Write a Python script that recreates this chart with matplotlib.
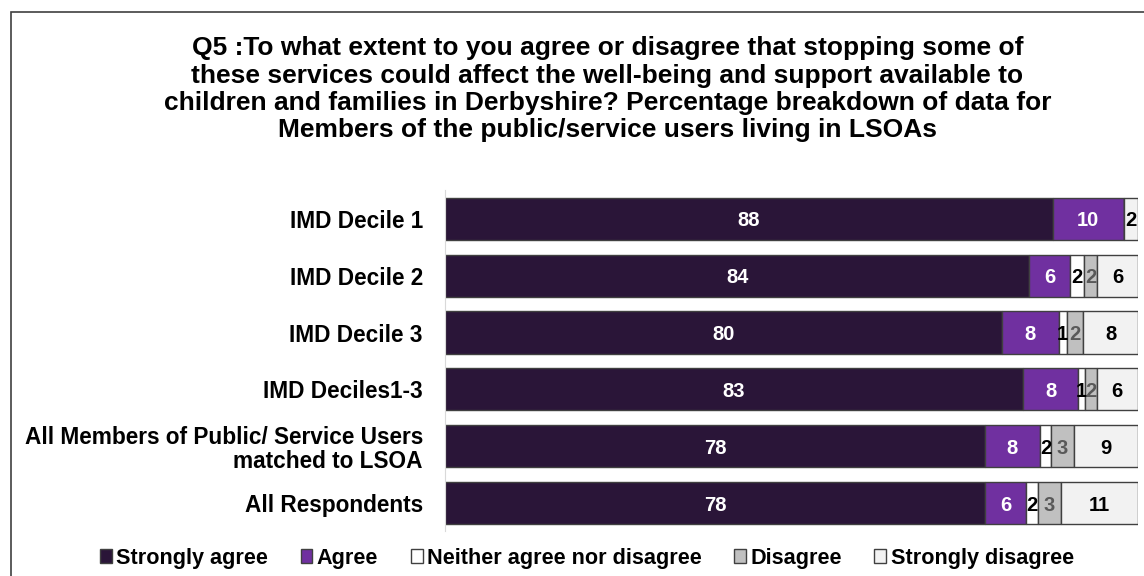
import matplotlib.pyplot as plt
import numpy as np

plt.rcParams['font.family'] = ['Liberation Sans', 'DejaVu Sans']
plt.rcParams['font.weight'] = 'bold'

# Categories (top to bottom) and percentage breakdowns
categories = ['IMD Decile 1', 'IMD Decile 2', 'IMD Decile 3', 'IMD Deciles1-3',
              'All Members of Public/ Service Users\nmatched to LSOA', 'All Respondents']
series_names = ['Strongly agree', 'Agree', 'Neither agree nor disagree',
                'Disagree', 'Strongly disagree']
strongly_agree = [87.7, 84.3, 80.4, 83.4, 77.9, 77.9]
agree = [10.2, 5.8, 8.1, 7.9, 7.9, 5.9]
neither = [0.0, 2.0, 1.2, 1.0, 1.6, 1.7]
disagree = [0.0, 2.0, 2.3, 1.7, 3.3, 3.4]
strongly_disagree = [2.0, 5.9, 8.0, 5.9, 9.2, 11.0]

colors = ['#2a1538', '#7030a0', '#ffffff', '#c0c0c0', '#f2f2f2']
label_colors = ['white', 'white', 'black', '#595959', 'black']

fig = plt.figure(figsize=(11.44, 5.76), dpi=100)
ax = fig.add_axes([0.389, 0.0774, 0.606, 0.592])

# border round the chart area
fig.patches.append(plt.Rectangle((11 / 1144, -0.01), 1.1, 1 - 12 / 576 + 0.01,
                                 transform=fig.transFigure, fill=False,
                                 edgecolor='#404040', linewidth=1.2))

y = np.arange(len(categories))
left = np.zeros(len(categories))
data = [strongly_agree, agree, neither, disagree, strongly_disagree]
for vals, name, col, lcol in zip(data, series_names, colors, label_colors):
    vals = np.array(vals)
    bars = ax.barh(y, vals, left=left, height=0.74, color=col,
                   edgecolor='#404040', linewidth=1.0, label=name)
    for b, v in zip(bars, vals):
        if v > 0:
            ax.text(b.get_x() + b.get_width() / 2, b.get_y() + b.get_height() / 2,
                    '%.0f' % v, ha='center', va='center_baseline', color=lcol,
                    fontsize=14.5, fontweight='bold')
    left += vals

ax.set_xlim(0, 100)
ax.set_ylim(len(categories) - 0.5, -0.5)
ax.set_yticks(y)
ax.set_yticklabels(categories, fontsize=16.3, fontweight='bold', linespacing=1.05)
ax.tick_params(axis='y', length=0, pad=16)
ax.set_xticks([])
for s in ['top', 'right', 'bottom']:
    ax.spines[s].set_visible(False)
ax.spines['left'].set_color('#d9d9d9')

fig.text(0.531, 0.845,
         'Q5 :To what extent to you agree or disagree that stopping some of\n'
         'these services could affect the well-being and support available to\n'
         'children and families in Derbyshire? Percentage breakdown of data for\n'
         'Members of the public/service users living in LSOAs',
         ha='center', va='center', fontsize=19, fontweight='bold',
         linespacing=1.18)

fig.legend(loc='center', bbox_to_anchor=(0.513, 0.031), ncol=5, frameon=False,
           fontsize=15.6, handlelength=0.55, handleheight=0.55, handletextpad=0.2,
           columnspacing=1.5)

fig.savefig('out.png', dpi=100)
